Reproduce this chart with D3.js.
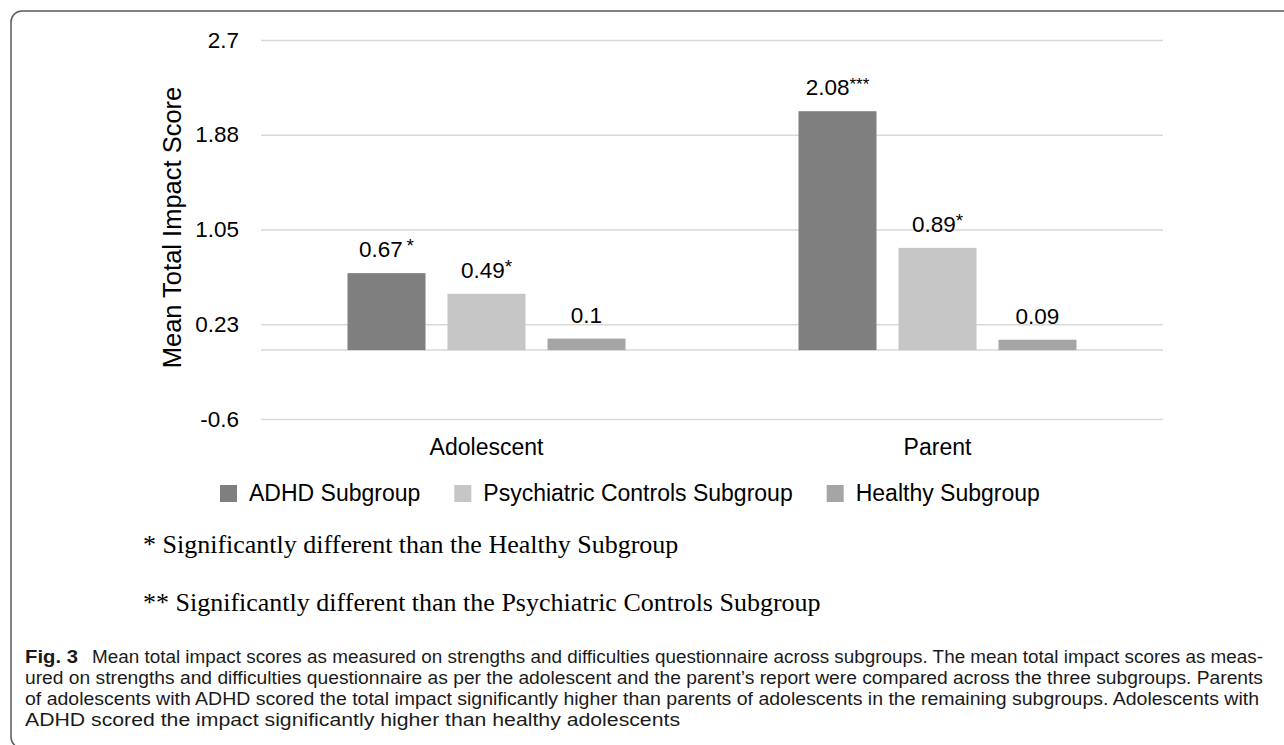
<!DOCTYPE html>
<html>
<head>
<meta charset="utf-8">
<script src="https://cdn.jsdelivr.net/npm/d3@7/dist/d3.min.js"></script>
<style>
  html, body { margin: 0; padding: 0; background: #fff; }
  svg { display: block; }
</style>
</head>
<body>
<svg id="chart" width="1284" height="745"></svg>
<script>
// ---- Data ----
const categories = ["Adolescent", "Parent"];
const seriesNames = ["ADHD Subgroup", "Psychiatric Controls Subgroup", "Healthy Subgroup"];
const adhdValues = [0.67, 2.08];
const psychValues = [0.49, 0.89];
const healthyValues = [0.1, 0.09];
const adhdMarks = ["*", "***"];
const psychMarks = ["*", "*"];
const healthyMarks = ["", ""];
const tickValues = [-0.6, 0.225, 1.05, 1.875, 2.7];
const tickLabels = ["-0.6", "0.23", "1.05", "1.88", "2.7"];
const yTitle = "Mean Total Impact Score";
const footnotes = [
  "* Significantly different than the Healthy Subgroup",
  "** Significantly different than the Psychiatric Controls Subgroup"
];
const captionBold = "Fig. 3";
const captionLines = [
  "Mean total impact scores as measured on strengths and difficulties questionnaire across subgroups. The mean total impact scores as meas-",
  "ured on strengths and difficulties questionnaire as per the adolescent and the parent\u2019s report were compared across the three subgroups. Parents",
  "of adolescents with ADHD scored the total impact significantly higher than parents of adolescents in the remaining subgroups. Adolescents with",
  "ADHD scored the impact significantly higher than healthy adolescents"
];

const seriesData = [
  { name: seriesNames[0], values: adhdValues, marks: adhdMarks, color: "#7f7f7f" },
  { name: seriesNames[1], values: psychValues, marks: psychMarks, color: "#c6c6c6" },
  { name: seriesNames[2], values: healthyValues, marks: healthyMarks, color: "#a5a5a5" }
];

// ---- Layout ----
const svg = d3.select("#chart");
const plot = { left: 261, right: 1163, top: 40, bottom: 419 };
const sans = "'Liberation Sans', Arial, sans-serif";
const serif = "'Liberation Serif', 'Times New Roman', serif";

// frame
svg.append("rect")
  .attr("x", 11).attr("y", 11).attr("width", 1320).attr("height", 737)
  .attr("rx", 11).attr("ry", 11)
  .attr("fill", "none").attr("stroke", "#5a5a5a").attr("stroke-width", 1.5);

const y = d3.scaleLinear().domain([-0.6, 2.7]).range([plot.bottom, plot.top]);
const x0 = d3.scaleBand().domain(categories).range([plot.left, plot.right]).padding(0);
const groupW = 278;
const x1 = d3.scaleBand().domain(seriesNames)
  .range([(x0.bandwidth() - groupW) / 2, (x0.bandwidth() + groupW) / 2])
  .paddingInner(0.22).paddingOuter(0);

// gridlines + tick labels
const yAxis = d3.axisLeft(y)
  .tickValues(tickValues)
  .tickSize(-(plot.right - plot.left))
  .tickPadding(22)
  .tickFormat((d, i) => tickLabels[i]);
const gy = svg.append("g").attr("transform", `translate(${plot.left},0)`).call(yAxis);
gy.select(".domain").remove();
gy.selectAll(".tick line").attr("stroke", "#d9d9d9").attr("stroke-width", 1.5);
gy.selectAll(".tick text")
  .attr("fill", "#000").style("font-family", sans).style("font-size", "22.5px");

// zero baseline (category axis)
svg.append("line")
  .attr("x1", plot.left).attr("x2", plot.right)
  .attr("y1", y(0)).attr("y2", y(0))
  .attr("stroke", "#d9d9d9").attr("stroke-width", 1.5);

// bars
const groups = svg.append("g").selectAll("g")
  .data(categories).join("g")
  .attr("transform", c => `translate(${x0(c)},0)`);

groups.each(function(c, ci) {
  const g = d3.select(this);
  seriesData.forEach((s, si) => {
    const v = s.values[ci];
    g.append("rect")
      .attr("x", x1(s.name))
      .attr("width", x1.bandwidth())
      .attr("y", y(Math.max(0, v)))
      .attr("height", Math.abs(y(v) - y(0)))
      .attr("fill", s.color);
    const t = g.append("text")
      .attr("x", x1(s.name) + x1.bandwidth() / 2)
      .attr("y", y(v) - 16)
      .attr("text-anchor", "middle")
      .style("font-family", sans).style("font-size", "22.5px")
      .attr("fill", "#000");
    t.append("tspan").text(String(v));
    if (s.marks[ci]) {
      const sep = (ci === 0 && si === 0) ? "\u2009" : "";
      t.append("tspan").attr("dy", -5).style("font-size", s.marks[ci].length > 1 ? "17px" : "19px")
        .text(sep + s.marks[ci]);
    }
  });
});

// category labels
svg.append("g").selectAll("text")
  .data(categories).join("text")
  .attr("x", c => x0(c) + x0.bandwidth() / 2)
  .attr("y", 455)
  .attr("text-anchor", "middle")
  .style("font-family", sans).style("font-size", "23px")
  .attr("fill", "#000")
  .text(d => d);

// y title
svg.append("text")
  .attr("transform", `translate(181,${(plot.top + plot.bottom) / 2 - 2}) rotate(-90)`)
  .attr("text-anchor", "middle")
  .style("font-family", sans).style("font-size", "25.5px")
  .attr("fill", "#000")
  .text(yTitle);

// legend
const legend = svg.append("g");
let lx = 220;
seriesData.forEach(s => {
  legend.append("rect").attr("x", lx).attr("y", 485).attr("width", 17).attr("height", 17).attr("fill", s.color);
  const t = legend.append("text")
    .attr("x", lx + 29).attr("y", 501)
    .style("font-family", sans).style("font-size", "23px")
    .attr("fill", "#000").text(s.name);
  lx = lx + 29 + t.node().getComputedTextLength() + 34;
});

// footnotes
const fnY = [553, 611];
footnotes.forEach((f, i) => {
  svg.append("text")
    .attr("x", 143).attr("y", fnY[i])
    .style("font-family", serif).style("font-size", "26px")
    .attr("fill", "#000").text(f);
});

// caption
const capFont = "'Liberation Sans Narrow', 'Liberation Sans', Arial, sans-serif";
const capY = [663, 684, 705, 726];
svg.append("text")
  .attr("x", 25).attr("y", capY[0])
  .attr("textLength", 53).attr("lengthAdjust", "spacingAndGlyphs")
  .style("font-family", capFont).style("font-size", "17.5px").style("font-weight", "bold")
  .attr("fill", "#1a1a1a").text(captionBold);
const capStarts = [92, 25, 25, 25];
const capEnds = [1263, 1263, 1259, 680];
captionLines.forEach((l, i) => {
  svg.append("text")
    .attr("x", capStarts[i]).attr("y", capY[i])
    .attr("textLength", capEnds[i] - capStarts[i]).attr("lengthAdjust", "spacingAndGlyphs")
    .style("font-family", capFont).style("font-size", "17.5px")
    .attr("fill", "#1a1a1a").text(l);
});
</script>
</body>
</html>
